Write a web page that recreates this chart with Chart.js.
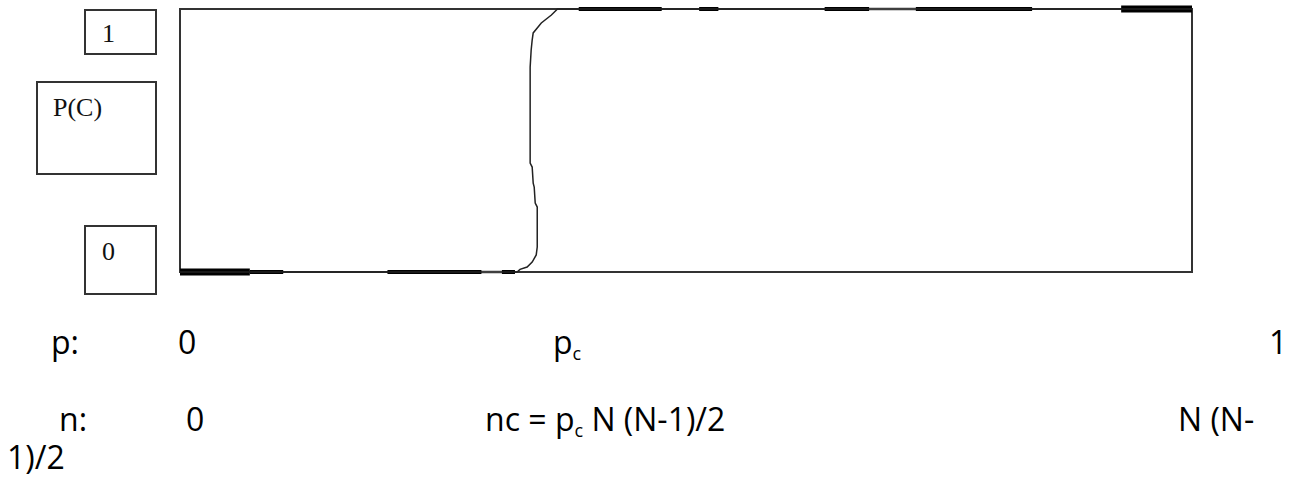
<!DOCTYPE html>
<html>
<head>
<meta charset="utf-8">
<script src="https://cdn.jsdelivr.net/npm/chart.js@4.4.0/dist/chart.umd.min.js"></script>
<style>
body { margin: 0; background: #fff; width: 1295px; height: 479px; overflow: hidden; position: relative; }
#plot { position: absolute; left: 0; top: 0; width: 1295px; height: 300px; }
.box { position: absolute; box-sizing: border-box; border: 2px solid #333; }
.serif { position: absolute; font-family: "Liberation Serif", "DejaVu Serif", serif; font-size: 26px; line-height: 1; color: #111; }
.t { position: absolute; font-family: "Open Sans", sans-serif; font-size: 32px; line-height: 1; color: #000; white-space: pre; }
.t sub { font-size: 18px; vertical-align: -6px; line-height: 1; }
</style>
</head>
<body>

<div class="box" style="left:84px;top:9px;width:73px;height:46px"></div>
<div class="box" style="left:36px;top:81px;width:121px;height:94px"></div>
<div class="box" style="left:84px;top:225px;width:73px;height:70px"></div>
<span class="serif" style="left:102px;top:21px">1</span>
<span class="serif" style="left:53px;top:95px">P(C)</span>
<span class="serif" style="left:102px;top:239px">0</span>

<div id="plot"><canvas id="curveChart"></canvas></div>

<span class="t" style="left:51px;top:326px">p:</span>
<span class="t" style="left:178px;top:326px">0</span>
<span class="t" style="left:553px;top:326px">p<sub>c</sub></span>
<span class="t" style="left:1269px;top:326px">1</span>

<span class="t" style="left:59px;top:403px">n:</span>
<span class="t" style="left:186px;top:403px">0</span>
<span class="t" style="left:485px;top:403px">nc = p<sub>c</sub> N (N-1)/2</span>
<span class="t" style="left:1178px;top:403px">N (N-</span>
<span class="t" style="left:7px;top:441px">1)/2</span>

<script>
// probability p (x) and P(C) (y) along the drawn curve
const pValues = [0, 0.333, 0.336, 0.343, 0.348, 0.352, 0.353, 0.353, 0.351, 0.350, 0.349, 0.348, 0.346, 0.346, 0.347, 0.348, 0.349, 0.353, 0.357, 0.367, 0.373, 1];
const probValues = [0, 0, 0.010, 0.019, 0.038, 0.065, 0.095, 0.247, 0.262, 0.323, 0.338, 0.399, 0.414, 0.779, 0.844, 0.882, 0.909, 0.928, 0.947, 0.977, 1, 1];

// smudged strokes along the edges: [p start, p end, level]
const heavyMarks = [[0, 0.069, 0], [0.930, 1, 1]];
const edgeMarks = [[0.069, 0.102, 0], [0.205, 0.298, 0], [0.318, 0.331, 0], [0.394, 0.476, 1], [0.513, 0.532, 1], [0.637, 0.681, 1], [0.727, 0.842, 1]];
const faintMarks = [[0.298, 0.318, 0], [0.681, 0.727, 1]];

function toSegments(marks) {
    const pts = [];
    marks.forEach(m => {
        pts.push({x: m[0], y: m[2]}, {x: m[1], y: m[2]}, {x: m[1], y: null});
    });
    return pts;
}

const framePlugin = {
    id: 'frame',
    beforeDatasetsDraw(chart) {
        const {ctx, chartArea: a} = chart;
        ctx.save();
        ctx.strokeStyle = '#333';
        ctx.lineWidth = 2;
        ctx.strokeRect(a.left, a.top, a.right - a.left, a.bottom - a.top);
        ctx.restore();
    }
};

const ctx = document.getElementById('curveChart').getContext('2d');
new Chart(ctx, {
    type: 'line',
    data: {
        datasets: [
            {
                label: 'P(C)',
                data: pValues.map((p, i) => ({x: p, y: probValues[i]})),
                borderColor: '#222',
                borderWidth: 1.5,
                tension: 0,
                pointRadius: 0,
                clip: false
            },
            {
                label: 'faint',
                data: toSegments(faintMarks),
                borderColor: '#9a9a9a',
                borderWidth: 3,
                pointRadius: 0,
                spanGaps: false,
                clip: false
            },
            {
                label: 'edge',
                data: toSegments(edgeMarks),
                borderColor: '#000',
                borderWidth: 4,
                pointRadius: 0,
                spanGaps: false,
                clip: false
            },
            {
                label: 'heavy',
                data: toSegments(heavyMarks),
                borderColor: '#000',
                borderWidth: 7,
                borderCapStyle: 'butt',
                pointRadius: 0,
                spanGaps: false,
                clip: false
            }
        ]
    },
    options: {
        responsive: true,
        maintainAspectRatio: false,
        animation: false,
        layout: {
            padding: {left: 180, top: 9, right: 103, bottom: 28}
        },
        scales: {
            x: {type: 'linear', min: 0, max: 1, display: false},
            y: {type: 'linear', min: 0, max: 1, display: false}
        },
        plugins: {
            legend: {display: false},
            tooltip: {enabled: false}
        }
    },
    plugins: [framePlugin]
});
</script>
</body>
</html>
